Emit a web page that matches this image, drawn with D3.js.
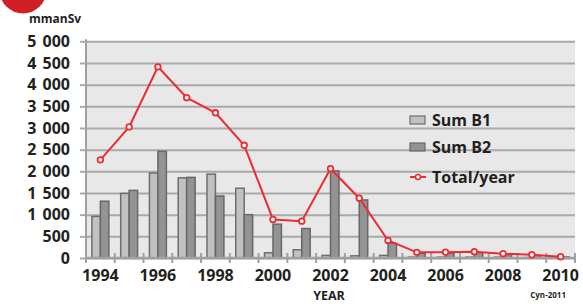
<!DOCTYPE html>
<html>
<head>
<meta charset="utf-8">
<script src="https://cdn.jsdelivr.net/npm/d3@7"></script>
<style>
  body { margin: 0; background: #fff; }
  svg { display: block; font-family: "Open Sans", sans-serif; font-weight: 700; }
</style>
</head>
<body>
<svg id="svg" width="583" height="304"></svg>
<script>
// values (mmanSv)
const years = [1994, 1995, 1996, 1997, 1998, 1999, 2000, 2001, 2002, 2003, 2004, 2005, 2006, 2007, 2008, 2009, 2010]
const sumB1 = [960, 1490, 1960, 1850, 1935, 1610, 120, 190, 60, 50, 60, 20, 20, 20, 20, 10, 5]
const sumB2 = [1310, 1560, 2460, 1860, 1430, 1000, 780, 680, 2010, 1340, 340, 110, 115, 125, 80, 60, 25]
const total = [2265, 3025, 4410, 3700, 3350, 2600, 890, 850, 2060, 1380, 405, 130, 135, 145, 100, 75, 30]
const yTicks = [0, 500, 1000, 1500, 2000, 2500, 3000, 3500, 4000, 4500, 5000]
const xLabels = [1994, 1996, 1998, 2000, 2002, 2004, 2006, 2008, 2010]
const seriesNames = ['Sum B1', 'Sum B2', 'Total/year']

const svg = d3.select('#svg')
const pLeft = 86, pRight = 575, pTop = 41.3, pBottom = 258

const fmt = d3.formatLocale({ decimal: '.', thousands: ' ', grouping: [3], currency: ['', ''] }).format(',')

const x = d3.scaleBand().domain(years).range([pLeft, pRight]).padding(0)
const x1 = d3.scaleBand().domain(['b1', 'b2']).range([0, x.bandwidth()]).paddingInner(0).paddingOuter(0.7)
const y = d3.scaleLinear().domain([0, 5000]).range([pBottom, pTop])

// red badge in the corner
svg.append('circle').attr('cx', 23).attr('cy', -10).attr('r', 23.5).attr('fill', '#d21f26')

// plot background
svg.append('rect')
    .attr('x', pLeft).attr('y', pTop)
    .attr('width', pRight - pLeft).attr('height', pBottom - pTop)
    .attr('fill', '#e8e8e8')

// gridlines + y labels
const yAxis = svg.append('g').attr('transform', `translate(${pLeft},0)`)
    .call(d3.axisLeft(y).tickValues(yTicks).tickSize(-(pRight - pLeft)).tickSizeOuter(0).tickFormat(fmt).tickPadding(16))
yAxis.select('.domain').remove()
yAxis.selectAll('.tick line').attr('stroke', '#a9a9a9').attr('stroke-width', 2)
yAxis.selectAll('.tick').append('line')
    .attr('x1', -6).attr('x2', 0).attr('stroke', '#a9a9a9').attr('stroke-width', 2)
yAxis.selectAll('.tick text')
    .attr('font-size', 16).attr('font-weight', 700).attr('fill', '#231f20')
    .attr('font-family', '"Open Sans", sans-serif')
    .style('word-spacing', '2px')

// y axis line
svg.append('line')
    .attr('x1', pLeft).attr('x2', pLeft).attr('y1', pTop - 2).attr('y2', pBottom)
    .attr('stroke', '#a0a0a0').attr('stroke-width', 2)

// bars
const rows = years.map((yr, i) => ({ year: yr, b1: sumB1[i], b2: sumB2[i], t: total[i] }))
const g = svg.append('g')
g.selectAll('rect.b1').data(rows).enter().append('rect')
    .attr('class', 'b1')
    .attr('x', d => x(d.year) + x1('b1'))
    .attr('y', d => y(d.b1))
    .attr('width', x1.bandwidth())
    .attr('height', d => pBottom - y(d.b1))
    .attr('fill', '#c1c1c1').attr('stroke', '#6e6e6e').attr('stroke-width', 1.5)
g.selectAll('rect.b2').data(rows).enter().append('rect')
    .attr('class', 'b2')
    .attr('x', d => x(d.year) + x1('b2'))
    .attr('y', d => y(d.b2))
    .attr('width', x1.bandwidth())
    .attr('height', d => pBottom - y(d.b2))
    .attr('fill', '#939393').attr('stroke', '#686868').attr('stroke-width', 1.5)

// x axis line and ticks at category edges
svg.append('line')
    .attr('x1', pLeft).attr('x2', pRight + 1).attr('y1', pBottom).attr('y2', pBottom)
    .attr('stroke', '#a0a0a0').attr('stroke-width', 2.5)
svg.selectAll('line.xtick').data(years.concat(['end'])).enter().append('line')
    .attr('class', 'xtick')
    .attr('x1', d => d === 'end' ? pRight : x(d))
    .attr('x2', d => d === 'end' ? pRight : x(d))
    .attr('y1', pBottom - 5).attr('y2', pBottom + 5)
    .attr('stroke', '#a0a0a0').attr('stroke-width', 2)

svg.selectAll('text.xlab').data(xLabels).enter().append('text')
    .attr('class', 'xlab')
    .attr('x', d => x(d) + x.bandwidth() / 2)
    .attr('y', 281)
    .attr('text-anchor', 'middle')
    .attr('font-size', 16).attr('fill', '#231f20')
    .text(d => d)

// total line
const line = d3.line().x(d => x(d.year) + x.bandwidth() / 2).y(d => y(d.t))
svg.append('path').datum(rows)
    .attr('d', line).attr('fill', 'none')
    .attr('stroke', '#ee2b33').attr('stroke-width', 2)
svg.selectAll('circle.pt').data(rows).enter().append('circle')
    .attr('class', 'pt')
    .attr('cx', d => x(d.year) + x.bandwidth() / 2)
    .attr('cy', d => y(d.t))
    .attr('r', 2.8)
    .attr('fill', '#fff').attr('stroke', '#ee2b33').attr('stroke-width', 1.8)

// legend
const lg = svg.append('g').attr('transform', 'translate(410,0)')
const legY = [120, 147, 177]
lg.append('rect').attr('x', 0).attr('y', legY[0] - 4).attr('width', 15).attr('height', 8)
    .attr('fill', '#c1c1c1').attr('stroke', '#6e6e6e').attr('stroke-width', 1.2)
lg.append('rect').attr('x', 0).attr('y', legY[1] - 4).attr('width', 15).attr('height', 8)
    .attr('fill', '#939393').attr('stroke', '#686868').attr('stroke-width', 1.2)
lg.append('line').attr('x1', 0).attr('x2', 16).attr('y1', legY[2]).attr('y2', legY[2])
    .attr('stroke', '#ee2b33').attr('stroke-width', 2)
lg.append('circle').attr('cx', 8).attr('cy', legY[2]).attr('r', 2.5)
    .attr('fill', '#fff').attr('stroke', '#ee2b33').attr('stroke-width', 1.6)
lg.selectAll('text').data(seriesNames).enter().append('text')
    .attr('x', 22).attr('y', (d, i) => legY[i] + 6)
    .attr('font-size', 16).attr('fill', '#231f20')
    .text(d => d)

// titles
svg.append('text').attr('x', 29).attr('y', 23).attr('font-size', 12).attr('fill', '#231f20').text('mmanSv')
svg.append('text').attr('x', 329).attr('y', 300).attr('text-anchor', 'middle')
    .attr('font-size', 12.5).attr('fill', '#231f20').text('YEAR')
svg.append('text').attr('x', 566).attr('y', 298).attr('text-anchor', 'end')
    .attr('font-size', 8).attr('fill', '#231f20').text('Cyn-2011')
</script>
</body>
</html>
